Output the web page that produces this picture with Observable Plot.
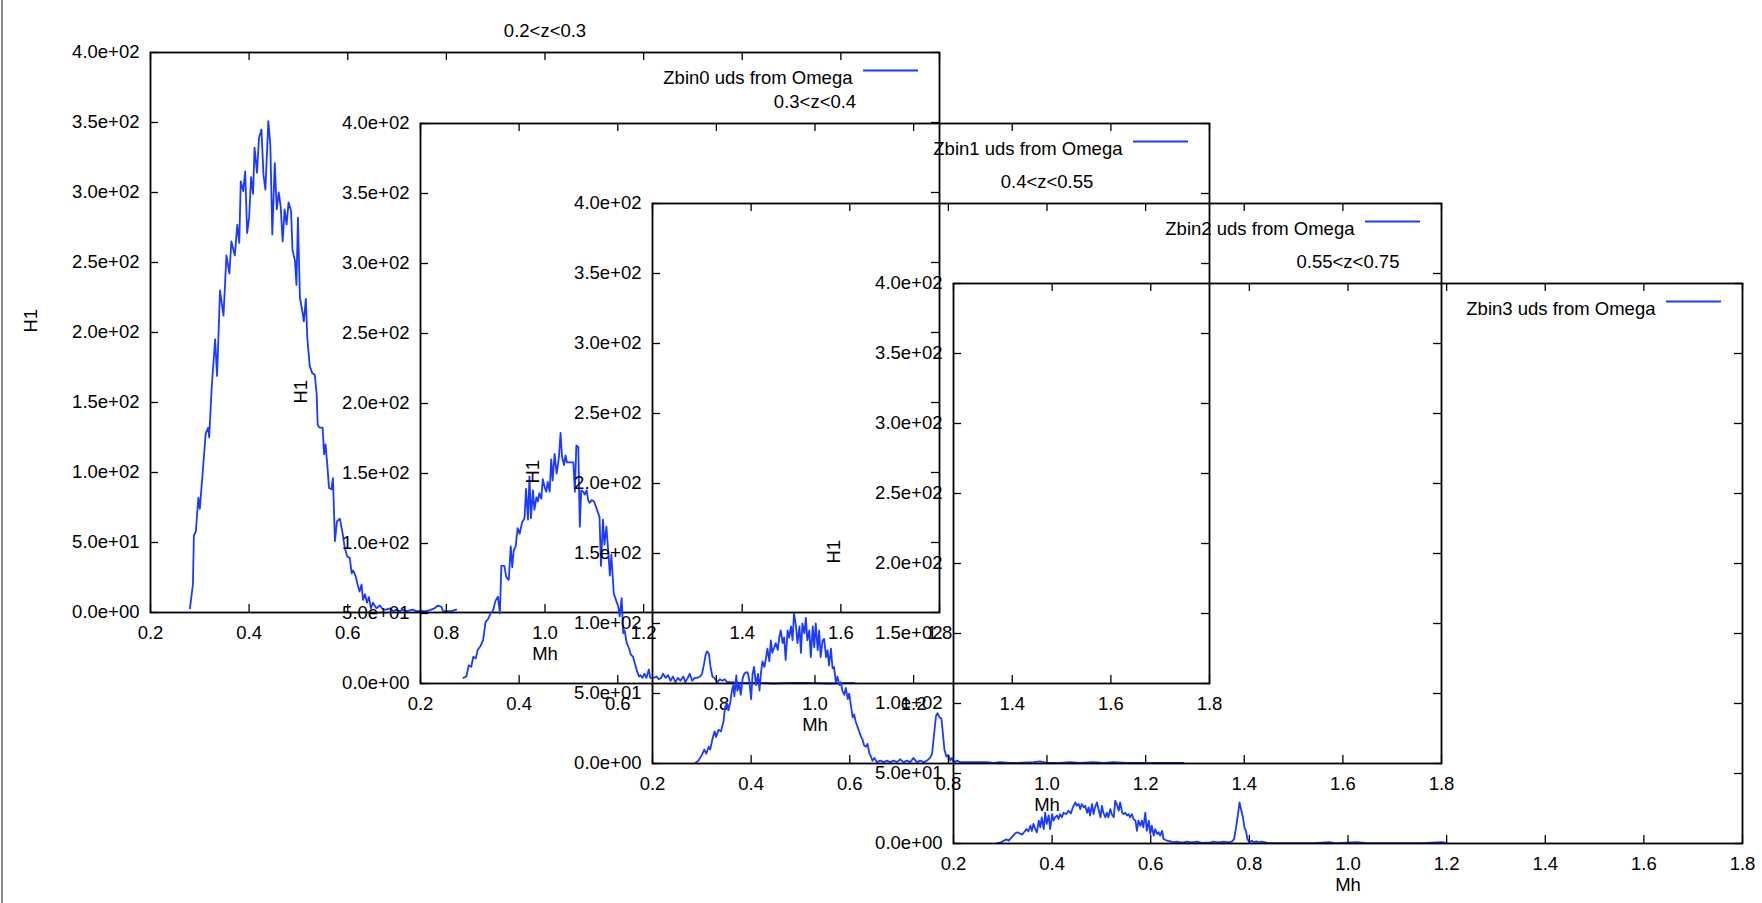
<!DOCTYPE html>
<html>
<head>
<meta charset="utf-8">
<script src="https://cdn.jsdelivr.net/npm/d3@7"></script>
<script src="https://cdn.jsdelivr.net/npm/@observablehq/plot@0.6"></script>
<style>
  html, body { margin: 0; padding: 0; background: #fff; overflow: hidden; }
  #chart { position: relative; width: 1762px; height: 903px; overflow: hidden; }
  #chart svg { position: absolute; background: transparent; overflow: visible; max-width: none; }
  #edge { position: absolute; left: 1px; top: 0; width: 2px; height: 903px; background: #8a8a8a; }
</style>
</head>
<body>
<div id="chart"><div id="edge"></div></div>
<script>
// ---------- data ----------
const titles = ["0.2<z<0.3", "0.3<z<0.4", "0.4<z<0.55", "0.55<z<0.75"];
const legendLabels = ["Zbin0 uds from Omega", "Zbin1 uds from Omega", "Zbin2 uds from Omega", "Zbin3 uds from Omega"];
const xLabel = "Mh";
const yLabel = "H1";
const xTicks = [0.2, 0.4, 0.6, 0.8, 1.0, 1.2, 1.4, 1.6, 1.8];
const xTickLabels = ["0.2", "0.4", "0.6", "0.8", "1.0", "1.2", "1.4", "1.6", "1.8"];
const yTicks = [0, 50, 100, 150, 200, 250, 300, 350, 400];
const yTickLabels = ["0.0e+00", "5.0e+01", "1.0e+02", "1.5e+02", "2.0e+02", "2.5e+02", "3.0e+02", "3.5e+02", "4.0e+02"];

// [Mh, H1]
const zbin0 = [[0.280,3],[0.286,20],[0.288,55],[0.292,58],[0.297,82],[0.300,74],[0.306,101],[0.312,128],[0.317,132],[0.319,125],[0.324,160],[0.331,195],[0.335,169],[0.341,230],[0.348,212],[0.354,255],[0.360,242],[0.364,265],[0.371,255],[0.376,277],[0.380,264],[0.383,308],[0.388,301],[0.392,315],[0.396,271],[0.400,282],[0.404,311],[0.408,299],[0.411,332],[0.416,314],[0.420,339],[0.425,345],[0.429,313],[0.433,302],[0.439,351],[0.443,334],[0.447,270],[0.452,321],[0.456,288],[0.460,300],[0.464,290],[0.468,265],[0.472,288],[0.476,277],[0.480,293],[0.485,287],[0.488,259],[0.493,251],[0.496,234],[0.499,282],[0.503,225],[0.508,215],[0.511,208],[0.515,224],[0.518,196],[0.523,176],[0.528,171],[0.533,170],[0.537,156],[0.539,134],[0.543,132],[0.549,132],[0.552,113],[0.555,120],[0.558,108],[0.562,89],[0.567,88],[0.570,96],[0.574,51],[0.578,65],[0.584,67],[0.589,58],[0.594,46],[0.599,40],[0.604,39],[0.608,28],[0.611,30],[0.616,26],[0.620,20],[0.624,15],[0.628,20],[0.631,9],[0.635,13],[0.639,7],[0.643,11],[0.647,3],[0.651,7],[0.658,3],[0.665,5],[0.672,2],[0.678,2],[0.685,3],[0.692,1],[0.699,2],[0.705,1],[0.712,2],[0.719,1],[0.732,2],[0.739,1],[0.749,1],[0.759,1],[0.769,2],[0.776,3],[0.783,5],[0.790,4],[0.793,1],[0.800,1],[0.810,1],[0.820,2]];

const zbin1 = [[0.287,4],[0.293,5],[0.298,13],[0.303,12],[0.307,19],[0.312,18],[0.316,24],[0.322,27],[0.327,31],[0.332,44],[0.337,46],[0.342,50],[0.347,52],[0.352,59],[0.357,62],[0.361,50],[0.364,84],[0.370,84],[0.374,76],[0.379,74],[0.383,98],[0.386,83],[0.389,95],[0.393,98],[0.397,111],[0.401,107],[0.406,115],[0.411,118],[0.414,139],[0.418,117],[0.421,148],[0.424,118],[0.428,138],[0.431,124],[0.435,133],[0.438,130],[0.441,136],[0.445,132],[0.448,146],[0.452,140],[0.455,137],[0.458,144],[0.462,137],[0.465,160],[0.468,145],[0.472,164],[0.476,150],[0.479,157],[0.481,163],[0.484,179],[0.487,162],[0.491,156],[0.494,163],[0.497,158],[0.501,158],[0.506,158],[0.510,158],[0.513,137],[0.516,170],[0.520,169],[0.523,112],[0.526,138],[0.530,137],[0.533,135],[0.537,138],[0.540,131],[0.543,129],[0.547,131],[0.552,130],[0.555,127],[0.558,124],[0.563,119],[0.566,84],[0.570,117],[0.573,99],[0.577,112],[0.581,93],[0.584,77],[0.587,92],[0.592,64],[0.597,59],[0.601,55],[0.604,48],[0.608,61],[0.611,36],[0.614,38],[0.618,29],[0.623,25],[0.626,21],[0.631,19],[0.635,14],[0.639,9],[0.643,5],[0.646,6],[0.650,4],[0.654,7],[0.658,4],[0.663,10],[0.666,4],[0.673,4],[0.679,5],[0.683,3],[0.688,4],[0.692,7],[0.697,4],[0.702,6],[0.707,2],[0.712,5],[0.717,1],[0.722,4],[0.727,2],[0.733,5],[0.737,1],[0.742,4],[0.746,7],[0.751,2],[0.756,4],[0.761,4],[0.767,5],[0.771,7],[0.775,14],[0.778,20],[0.781,23],[0.785,21],[0.788,12],[0.792,5],[0.796,4],[0.802,1],[0.807,3],[0.812,2],[0.817,3],[0.822,1],[0.829,1],[0.849,0.5],[0.890,0.5],[0.917,0],[0.950,0.5],[0.984,0.5],[1.030,0],[1.079,0.5]];

const zbin2 = [[0.287,0.5],[0.293,2],[0.300,6],[0.305,10],[0.309,7],[0.314,12],[0.317,10],[0.322,18],[0.326,23],[0.329,19],[0.334,24],[0.339,23],[0.344,30],[0.347,40],[0.351,43],[0.354,38],[0.358,44],[0.361,52],[0.364,56],[0.366,48],[0.370,63],[0.372,52],[0.376,57],[0.379,49],[0.383,61],[0.386,64],[0.389,65],[0.393,65],[0.396,60],[0.400,46],[0.403,64],[0.406,69],[0.410,56],[0.414,64],[0.417,52],[0.420,65],[0.423,73],[0.427,69],[0.430,75],[0.433,82],[0.437,73],[0.440,88],[0.443,79],[0.447,83],[0.450,86],[0.454,81],[0.457,90],[0.460,95],[0.464,86],[0.467,90],[0.470,74],[0.474,95],[0.477,90],[0.481,98],[0.484,88],[0.487,107],[0.491,98],[0.494,86],[0.498,98],[0.501,79],[0.504,100],[0.508,93],[0.511,104],[0.514,88],[0.518,95],[0.521,76],[0.525,98],[0.528,83],[0.531,100],[0.535,81],[0.538,95],[0.541,76],[0.545,88],[0.548,89],[0.552,76],[0.555,81],[0.558,70],[0.562,82],[0.565,68],[0.568,69],[0.572,58],[0.575,62],[0.579,56],[0.582,58],[0.585,52],[0.589,49],[0.592,54],[0.596,46],[0.599,50],[0.602,42],[0.606,33],[0.609,35],[0.612,30],[0.616,26],[0.619,23],[0.623,19],[0.626,17],[0.629,13],[0.633,12],[0.636,14],[0.640,7],[0.643,5],[0.646,2],[0.650,4],[0.655,1],[0.662,2],[0.669,1],[0.675,2],[0.682,1],[0.689,2],[0.696,1],[0.702,3],[0.709,1],[0.716,2],[0.723,1],[0.729,4],[0.736,1],[0.743,2],[0.750,1],[0.756,2],[0.763,4],[0.767,7],[0.771,21],[0.775,34],[0.778,36],[0.782,33],[0.786,32],[0.789,21],[0.792,10],[0.796,5],[0.800,6],[0.804,2],[0.807,4],[0.811,1],[0.817,2],[0.824,1],[0.831,1],[0.838,1],[0.851,1],[0.865,1],[0.878,1],[0.892,0.5],[0.905,1],[0.925,0.5],[0.939,0.5],[0.973,1],[0.986,1.5],[1.000,0.5],[1.027,0.5],[1.047,1],[1.067,0.5],[1.094,1],[1.115,0.5],[1.135,1],[1.162,0.5],[1.203,0.5],[1.236,0.5],[1.277,0.5]];

const zbin3 = [[0.289,0.3],[0.296,0.8],[0.302,2],[0.307,3],[0.312,2],[0.318,4.4],[0.325,7.2],[0.330,8],[0.334,7.2],[0.339,6.3],[0.343,8],[0.348,10.3],[0.352,8.7],[0.356,12.7],[0.359,9],[0.362,14],[0.366,10.3],[0.369,8],[0.373,16.3],[0.376,11.5],[0.379,18.7],[0.383,10.3],[0.386,22],[0.389,14],[0.393,20],[0.396,10.3],[0.400,21],[0.403,16.3],[0.406,18.7],[0.410,20],[0.413,17.5],[0.416,21],[0.420,18.7],[0.423,22],[0.429,21],[0.433,23.4],[0.438,21.5],[0.442,25.8],[0.447,29.4],[0.450,27],[0.454,28.2],[0.457,24.6],[0.460,28.2],[0.464,25.8],[0.467,27],[0.471,22],[0.474,25.8],[0.477,20],[0.481,28.2],[0.484,21],[0.487,25.8],[0.491,29.4],[0.494,24.6],[0.498,18.7],[0.501,27],[0.504,22],[0.508,18.7],[0.511,22],[0.514,18.7],[0.518,24.6],[0.521,21],[0.525,18.7],[0.528,30.6],[0.531,28.2],[0.535,23.4],[0.538,29.4],[0.542,22],[0.545,21],[0.548,22],[0.552,20],[0.555,21],[0.558,18.7],[0.562,21],[0.565,17.5],[0.569,16.3],[0.572,9],[0.575,16.3],[0.579,12.7],[0.582,16.3],[0.585,11.5],[0.589,22],[0.592,9],[0.596,16.3],[0.599,6.8],[0.602,12.7],[0.606,5.6],[0.609,10.3],[0.613,6.8],[0.616,8],[0.619,5.6],[0.623,9],[0.626,3.2],[0.633,2],[0.640,1.5],[0.646,0.8],[0.653,1.3],[0.660,0.8],[0.667,0.8],[0.673,1.3],[0.683,0.8],[0.694,1.3],[0.704,0.5],[0.721,0.8],[0.727,1.3],[0.738,0.8],[0.748,1.3],[0.758,0.8],[0.765,1.5],[0.769,3.2],[0.773,11.5],[0.777,21],[0.780,29.4],[0.783,24.6],[0.787,18.7],[0.790,11.5],[0.793,9],[0.796,3.2],[0.800,0.8],[0.805,2],[0.809,0.8],[0.814,1.5],[0.819,0.8],[0.825,1.3],[0.832,0.8],[0.839,0.3],[0.870,0.3],[0.930,0.3],[0.962,1],[0.975,0.3],[1.017,1],[1.040,0.3],[1.100,0.3],[1.150,0.3],[1.191,1],[1.200,0.3]];

const series = [zbin0, zbin1, zbin2, zbin3];

// ---------- layout / style ----------
const panelOrigins = [[150, 52], [420, 123], [652, 203], [953, 283]]; // plot-frame top-left, px
const W = 789, H = 560;
const mL = 130, mR = 15, mT = 40, mB = 60;
const blue = "#1a3aff";
const font = "'Liberation Sans', Arial, Helvetica, sans-serif";

const chart = document.getElementById("chart");

series.forEach((s, k) => {
  const data = s.map(([mh, h1]) => ({mh, h1}));
  const svg = Plot.plot({
    width: W + mL + mR,
    height: H + mT + mB,
    marginLeft: mL, marginRight: mR, marginTop: mT, marginBottom: mB,
    x: {domain: [0.2, 1.8]},
    y: {domain: [0, 400]},
    style: {fontFamily: font, fontSize: "18.5px", color: "#000", background: "transparent", overflow: "visible"},
    marks: [
      Plot.line(data, {x: "mh", y: "h1", stroke: blue, strokeWidth: 1.8}),
      Plot.frame({stroke: "#000", strokeWidth: 1.8}),
      Plot.ruleX(xTicks, {insetTop: H - 8, stroke: "#000", strokeWidth: 1.3}),
      Plot.ruleX(xTicks, {insetBottom: H - 8, stroke: "#000", strokeWidth: 1.3}),
      Plot.ruleY(yTicks, {insetRight: W - 8, stroke: "#000", strokeWidth: 1.3}),
      Plot.ruleY(yTicks, {insetLeft: W - 8, stroke: "#000", strokeWidth: 1.3}),
      Plot.axisX({ticks: xTicks, tickSize: 0, tickPadding: 13, label: null,
        tickFormat: (d) => xTickLabels[xTicks.indexOf(d)]}),
      Plot.axisY({ticks: yTicks, tickSize: 0, tickPadding: 11, label: null,
        tickFormat: (d) => yTickLabels[yTicks.indexOf(d)]}),
      Plot.text([yLabel], {frameAnchor: "left", dx: -119, rotate: -90}),
      Plot.text([xLabel], {frameAnchor: "bottom", dy: 47}),
      Plot.text([titles[k]], {frameAnchor: "top", dy: -29}),
      Plot.text([legendLabels[k]], {frameAnchor: "top-right", dx: -87, dy: 18, textAnchor: "end"}),
      Plot.ruleY([0], {y: null, insetLeft: W - 76, insetRight: 21, dy: 18 - H / 2, stroke: blue, strokeWidth: 1.8})
    ]
  });
  svg.style.left = (panelOrigins[k][0] - mL) + "px";
  svg.style.top = (panelOrigins[k][1] - mT) + "px";
  chart.appendChild(svg);
});
</script>
</body>
</html>
